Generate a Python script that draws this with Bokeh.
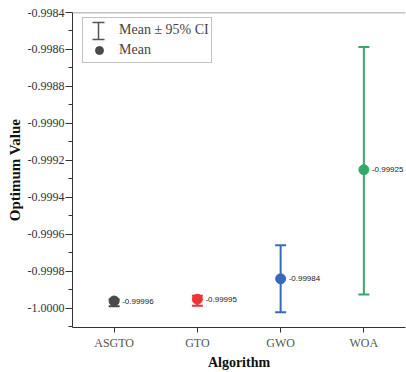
from bokeh.plotting import figure
from bokeh.models import (ColumnDataSource, Whisker, TeeHead, FactorRange, Range1d,
                          FixedTicker, PrintfTickFormatter, Legend, LegendItem, Span)
from bokeh.embed import file_html
from bokeh.resources import INLINE
from bokeh.core.properties import value

algorithms = ["ASGTO", "GTO", "GWO", "WOA"]
means = [-0.99996, -0.99995, -0.99984, -0.99925]
ci_lower = [-0.999988, -0.999986, -1.000020, -0.999924]
ci_upper = [-0.999952, -0.999932, -0.999658, -0.998586]
mean_labels = ["-0.99996", "-0.99995", "-0.99984", "-0.99925"]
colors = ["#4a4a4a", "#ee3338", "#3a68ba", "#36a96a"]
y_ticks = [-1.0000, -0.9998, -0.9996, -0.9994, -0.9992, -0.9990, -0.9988, -0.9986, -0.9984]
y_minor = [-1.0001, -0.9999, -0.9997, -0.9995, -0.9993, -0.9991, -0.9989, -0.9987, -0.9985]
y_min, y_max = -1.000103, -0.9984

SERIF = "Liberation Serif"

src = ColumnDataSource(dict(alg=algorithms, mean=means, lo=ci_lower, up=ci_upper,
                            color=colors, lab=mean_labels))

p = figure(width=406, height=372, x_range=FactorRange(*algorithms, range_padding=0),
           y_range=Range1d(y_min, y_max),
           output_backend="svg", toolbar_location=None,
           min_border_left=72, min_border_right=1, min_border_top=12, min_border_bottom=45)
p.outline_line_color = None
p.grid.visible = False
p.background_fill_color = "white"

# top frame line
p.add_layout(Span(location=y_max, dimension="width", line_color="#888888", line_width=1.5))

# error bars
for i in range(len(algorithms)):
    s = ColumnDataSource(dict(alg=[algorithms[i]], lo=[ci_lower[i]], up=[ci_upper[i]]))
    w = Whisker(source=s, base="alg", lower="lo", upper="up", dimension="height",
                line_color=colors[i], line_width=2,
                upper_head=TeeHead(size=11, line_color=colors[i], line_width=2),
                lower_head=TeeHead(size=11, line_color=colors[i], line_width=2),
                level="glyph")
    p.add_layout(w)

r_mean = p.scatter(x="alg", y="mean", source=src, size=10, fill_color="color",
                   line_color="color")
p.text(x="alg", y="mean", text="lab", source=src, x_offset=8, text_baseline="middle",
       text_font_size="8px", text_font=value("Liberation Sans"), text_color="#222222")

# axes
p.yaxis.ticker = FixedTicker(ticks=y_ticks, minor_ticks=y_minor)
p.yaxis.formatter = PrintfTickFormatter(format="%.4f")
p.yaxis.axis_label = "Optimum Value"
p.xaxis.axis_label = "Algorithm"
for ax in (p.xaxis[0], p.yaxis[0]):
    ax.axis_line_color = "#333333"
    ax.major_tick_line_color = "#333333"
    ax.minor_tick_line_color = "#333333"
    ax.major_label_text_font = SERIF
    ax.axis_label_text_font = SERIF
    ax.axis_label_text_font_style = "bold"
    ax.axis_label_text_color = "#111111"
    ax.major_tick_in = 0
    ax.minor_tick_in = 0
p.yaxis.axis_label_text_font_size = "15px"
p.xaxis.axis_label_text_font_size = "14px"
p.yaxis.major_tick_out = 7
p.yaxis.minor_tick_out = 4
p.yaxis.major_label_text_font_size = "12px"
p.yaxis.major_label_text_color = "#333333"
p.yaxis.major_label_standoff = 1
p.yaxis.axis_label_standoff = 2
p.xaxis.major_tick_out = 5
p.xaxis.major_label_text_font_size = "12px"
p.xaxis.major_label_text_color = "#555555"
p.xaxis.major_label_standoff = 3
p.xaxis.axis_label_standoff = 2

# legend
r_dummy = p.scatter(x=[], y=[], alpha=0)
legend = Legend(items=[LegendItem(label="Mean \u00b1 95% CI", renderers=[r_dummy]),
                       LegendItem(label="Mean", renderers=[r_mean], index=0)],
                location=(10, 264), padding=2, spacing=0, label_height=20, glyph_height=20,
                glyph_width=28, label_standoff=6, margin=0,
                label_text_font=SERIF, label_text_font_size="14px",
                border_line_color="#888888", background_fill_alpha=0)
p.add_layout(legend)

icon = ColumnDataSource(dict(b=[26], lo=[288], up=[305]))
p.add_layout(Whisker(source=icon, base="b", lower="lo", upper="up", dimension="height",
                     base_units="screen", lower_units="screen", upper_units="screen",
                     line_color="#555555", line_width=1.5,
                     upper_head=TeeHead(size=12, line_color="#555555", line_width=1.5),
                     lower_head=TeeHead(size=12, line_color="#555555", line_width=1.5),
                     level="overlay"))

open("out.html", "w").write(file_html(p, INLINE))
